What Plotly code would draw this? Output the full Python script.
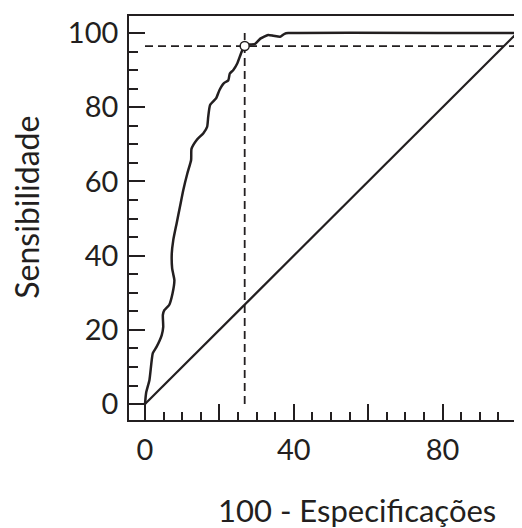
import plotly.graph_objects as go

# ROC curve values (100 - especificidade, sensibilidade)
roc_x = [0, 0.3, 1.2, 2.1, 3.1, 4.5, 4.9, 4.8, 5.2, 6.5, 7.4, 7.9, 7.6, 7.3, 7.2, 7.6,
         8.5, 9.4, 10.3, 11.4, 12.4, 12.5, 13.9, 15.7, 16.7, 17.0, 17.5, 19.1, 20.0,
         21.1, 22.4, 22.8, 23.7, 24.8, 26.0, 26.9, 28.0, 29.5, 31.0, 33.1, 34.5, 36.3,
         37.5, 38.5, 100]
roc_y = [0, 3.0, 6.5, 13.7, 15.4, 18.6, 20.8, 24.0, 25.3, 26.7, 29.8, 33.4, 35.0, 36.6,
         40.6, 44.2, 48.7, 53.2, 57.7, 62.2, 65.8, 68.8, 71.2, 73.0, 74.7, 77.5, 80.6,
         82.4, 84.6, 86.4, 87.3, 89.1, 90.0, 91.8, 95.0, 96.5, 96.9, 97.0, 98.5, 99.5,
         99.3, 99.0, 99.8, 100, 100]

# chance line
diag_x = [0, 100]
diag_y = [0, 100]

# cut-off point
cut_x = 26.8
cut_y = 96.5

x_tickvals = [0, 20, 40, 60, 80, 100]
x_ticktext = ["0", "", "40", "", "80", ""]
y_tickvals = [0, 20, 40, 60, 80, 100]
y_ticktext = ["0", "20", "40", "60", "80", "100"]

x_title = "100 - Especificações"
y_title = "Sensibilidade"

INK = "#231f20"
FONT = "Lato"

fig = go.Figure()

fig.add_trace(go.Scatter(x=diag_x, y=diag_y, mode="lines",
                         line=dict(color=INK, width=2.2), showlegend=False))
fig.add_trace(go.Scatter(x=[0, 100], y=[cut_y, cut_y], mode="lines",
                         line=dict(color=INK, width=1.8, dash="8px,5px"), showlegend=False))
fig.add_trace(go.Scatter(x=[cut_x, cut_x], y=[0, 100], mode="lines",
                         line=dict(color=INK, width=1.8, dash="8px,5px"), showlegend=False))
fig.add_trace(go.Scatter(x=roc_x, y=roc_y, mode="lines",
                         line=dict(color=INK, width=2.5, shape="spline", smoothing=0.5),
                         showlegend=False))
fig.add_trace(go.Scatter(x=[cut_x], y=[cut_y], mode="markers",
                         marker=dict(size=9, color="white", line=dict(color=INK, width=1.5)),
                         showlegend=False))

fig.update_xaxes(range=[-4.3, 100], showgrid=False, zeroline=False, automargin=False,
                 showline=True, linecolor=INK, linewidth=1.8, mirror=True,
                 ticks="inside", ticklen=16, tickwidth=1.8, tickcolor=INK,
                 tickvals=x_tickvals, ticktext=x_ticktext,
                 minor=dict(ticks="inside", ticklen=8, tickwidth=1.6, tickcolor=INK,
                            tick0=0, dtick=5),
                 tickfont=dict(family=FONT, size=29, color=INK),
                 ticklabelstandoff=3)
fig.update_yaxes(range=[-4.3, 104.6], showgrid=False, zeroline=False, automargin=False,
                 showline=True, linecolor=INK, linewidth=1.8,
                 ticks="inside", ticklen=16, tickwidth=1.8, tickcolor=INK,
                 tickvals=y_tickvals, ticktext=y_ticktext,
                 minor=dict(ticks="inside", ticklen=9, tickwidth=1.6, tickcolor=INK,
                            tick0=0, dtick=5),
                 tickfont=dict(family=FONT, size=29, color=INK),
                 ticklabelstandoff=3)

fig.add_annotation(text=x_title, xref="paper", yref="paper", x=0.588, y=-0.224,
                   xanchor="center", yanchor="middle", showarrow=False,
                   font=dict(family=FONT, size=31, color=INK))
fig.add_annotation(text=y_title, xref="paper", yref="paper", x=-0.264, y=0.527,
                   xanchor="center", yanchor="middle", showarrow=False, textangle=-90,
                   font=dict(family=FONT, size=32, color=INK))

# page body has an 8px margin: figure occupies 8..522 x 8..528 of the window
fig.update_layout(width=514, height=520, autosize=False,
                  margin=dict(l=121, r=5, t=8, b=108, pad=0),
                  paper_bgcolor="white", plot_bgcolor="white")

fig.write_html("out.html")
